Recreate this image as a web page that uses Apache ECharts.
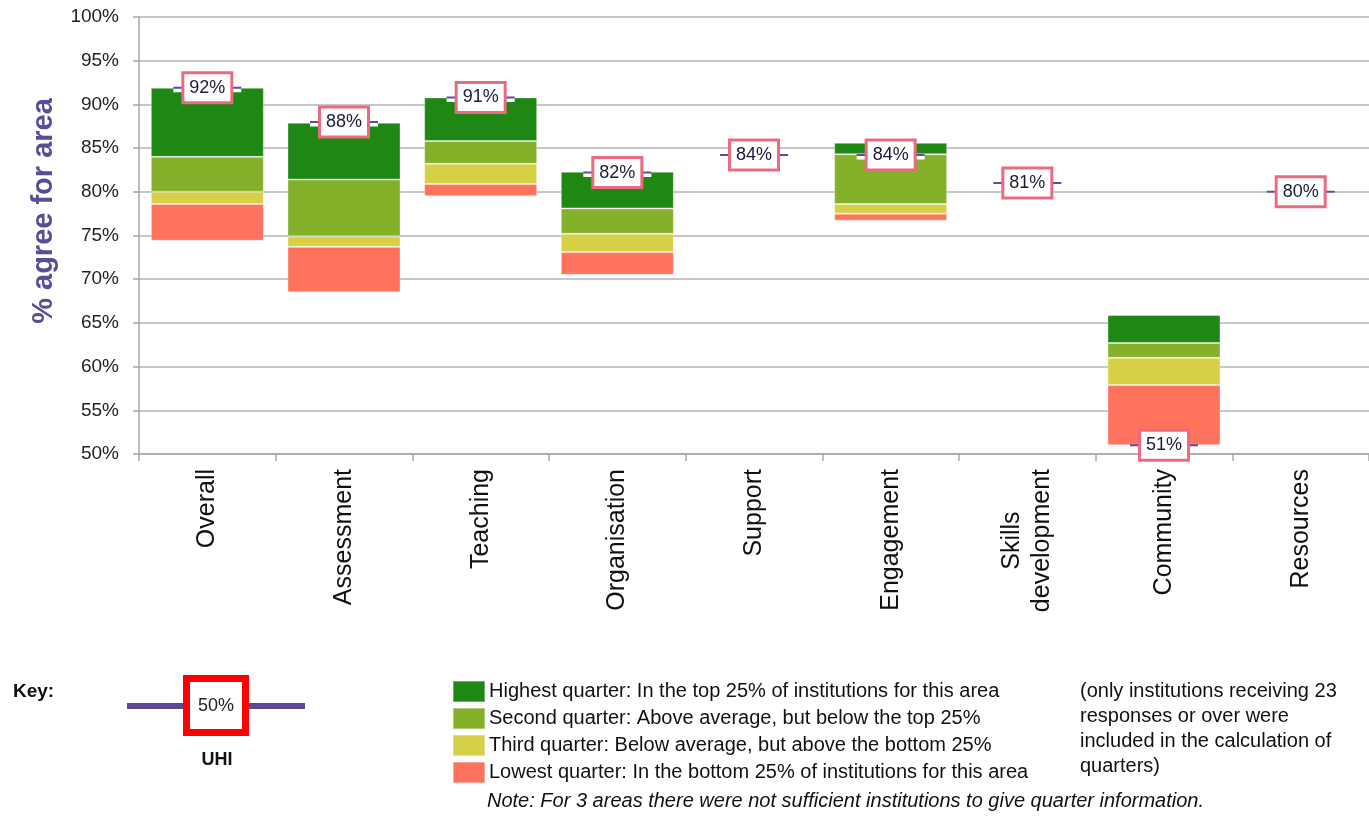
<!DOCTYPE html>
<html>
<head>
<meta charset="utf-8">
<script src="https://cdn.jsdelivr.net/npm/echarts@6/dist/echarts.min.js"></script>
<style>
html,body{margin:0;padding:0;background:#fff;}
#chart{width:1369px;height:816px;}
</style>
</head>
<body>
<div id="chart"></div>
<script>
// ---- data ----
const categories = ['Overall','Assessment','Teaching','Organisation','Support','Engagement','Skills\ndevelopment','Community','Resources'];
// quarter boundaries (% agree) per area; null = no quarter info
const quarterBottom  = [74.4, 68.5, 79.5, 70.5, null, 76.7, null, 51.0, null];
const lowestTop      = [78.6, 73.7, 80.9, 73.1, null, 77.5, null, 57.9, null];
const thirdTop       = [80.0, 74.9, 83.2, 75.2, null, 78.6, null, 61.0, null];
const secondTop      = [84.0, 81.4, 85.8, 78.1, null, 84.3, null, 62.7, null];
const highestTop     = [91.9, 87.9, 90.8, 82.3, null, 85.6, null, 65.9, null];
const uhiValues      = [91.9, 88.0, 90.8, 82.2, 84.2, 84.2, 81.0, 51.0, 80.0];
const yTicks = [50, 55, 60, 65, 70, 75, 80, 85, 90, 95, 100];

const seriesNames = [
  'Highest quarter: In the top 25% of institutions for this area',
  'Second quarter: Above average, but below the top 25%',
  'Third quarter: Below average, but above the bottom 25%',
  'Lowest quarter: In the bottom 25% of institutions for this area'
];
const colors = {
  highest: '#1f8713',
  second: '#84b02a',
  third: '#d6d046',
  lowest: '#ff735e',
  uhi: '#5b4e96',
  labelBorder: '#eb6a80'
};

function diff(top, bottom) {
  return top.map((t, i) => (t == null || bottom[i] == null) ? null : +(t - bottom[i]).toFixed(2));
}

const FONT = '"Liberation Sans", Arial, sans-serif';
const chart = echarts.init(document.getElementById('chart'));

const barCommon = {
  type: 'bar',
  stack: 'q',
  barWidth: 113,
  emphasis: { disabled: true },
  itemStyle: { borderColor: 'rgba(255,255,255,0.35)', borderWidth: 1 }
};

chart.setOption({
  animation: false,
  textStyle: { fontFamily: FONT },
  grid: { left: 139, right: 0, top: 17, height: 437, containLabel: false },
  xAxis: {
    type: 'category',
    data: categories,
    axisLine: { lineStyle: { color: '#a8a8a8', width: 1.5 } },
    axisTick: { show: true, length: 7, lineStyle: { color: '#a8a8a8', width: 1.5 } },
    axisLabel: {
      interval: 0,
      rotate: 90,
      margin: 15,
      fontSize: 25,
      color: '#111',
      fontFamily: FONT,
      formatter: function (v) {
        if (v.indexOf('\n') >= 0) {
          return v.split('\n').map(s => '{c|' + s + '}').join('\n');
        }
        return v;
      },
      rich: { c: { align: 'center', fontSize: 25, lineHeight: 30, color: '#111', fontFamily: FONT } }
    }
  },
  yAxis: {
    type: 'value',
    min: yTicks[0],
    max: yTicks[yTicks.length - 1],
    interval: 5,
    axisLine: { show: true, lineStyle: { color: '#a8a8a8', width: 1.5 } },
    axisTick: { show: true, length: 6, lineStyle: { color: '#a8a8a8', width: 1.5 } },
    splitLine: { lineStyle: { color: '#b4b4b4', width: 1.5 } },
    axisLabel: { fontSize: 19, color: '#222', margin: 20, formatter: '{value}%', fontFamily: FONT }
  },
  legend: {
    orient: 'vertical',
    left: 452,
    top: 680,
    padding: 0,
    itemWidth: 32,
    itemHeight: 21,
    itemGap: 4,
    icon: 'rect',
    selectedMode: false,
    data: seriesNames,
    textStyle: { fontSize: 20, color: '#111', fontFamily: FONT, padding: [0, 0, 0, -1] }
  },
  series: [
    Object.assign({}, barCommon, {
      name: 'base', data: quarterBottom,
      itemStyle: { color: 'transparent', borderWidth: 0 }, silent: true
    }),
    Object.assign({}, barCommon, { name: seriesNames[3], data: diff(lowestTop, quarterBottom), color: colors.lowest }),
    Object.assign({}, barCommon, { name: seriesNames[2], data: diff(thirdTop, lowestTop), color: colors.third }),
    Object.assign({}, barCommon, { name: seriesNames[1], data: diff(secondTop, thirdTop), color: colors.second }),
    Object.assign({}, barCommon, { name: seriesNames[0], data: diff(highestTop, secondTop), color: colors.highest }),
    {
      type: 'scatter',
      name: 'UHI-bg',
      data: uhiValues,
      z: 9,
      symbol: 'rect',
      symbolSize: [68, 4],
      symbolOffset: [0, 2.5],
      itemStyle: { color: '#fff', opacity: 1 },
      emphasis: { disabled: true },
      silent: true
    },
    {
      type: 'scatter',
      name: 'UHI',
      data: uhiValues,
      z: 10,
      symbol: 'rect',
      symbolSize: [68, 2],
      itemStyle: { color: colors.uhi, opacity: 1 },
      emphasis: { disabled: true },
      label: {
        show: true,
        position: 'inside',
        formatter: p => Math.round(p.value) + '%',
        fontSize: 18,
        color: '#1a1a3a',
        opacity: 1,
        fontFamily: FONT,
        backgroundColor: '#fff',
        borderColor: colors.labelBorder,
        borderWidth: 3,
        padding: [5, 5, 4, 5]
      }
    }
  ],
  graphic: [
    {
      type: 'text', x: 44, y: 211, rotation: Math.PI / 2,
      style: { text: '% agree for area', fill: '#5a4d97', font: 'bold 29px ' + FONT, align: 'center', verticalAlign: 'middle' }
    },
    {
      type: 'text', x: 13, y: 692,
      style: { text: 'Key:', fill: '#111', font: 'bold 19px ' + FONT, align: 'left', verticalAlign: 'middle' }
    },
    {
      type: 'rect', shape: { x: 127, y: 703, width: 178, height: 6 },
      style: { fill: '#5b4a91' }
    },
    {
      type: 'rect', shape: { x: 186.5, y: 678.5, width: 59, height: 54 },
      style: { fill: '#fff', stroke: '#ff0000', lineWidth: 7 }
    },
    {
      type: 'text', x: 216, y: 706,
      style: { text: '50%', fill: '#222', font: '18px ' + FONT, align: 'center', verticalAlign: 'middle' }
    },
    {
      type: 'text', x: 217, y: 760,
      style: { text: 'UHI', fill: '#111', font: 'bold 18px ' + FONT, align: 'center', verticalAlign: 'middle' }
    },
    {
      type: 'text', x: 487, y: 801,
      style: { text: 'Note: For 3 areas there were not sufficient institutions to give quarter information.', fill: '#111', font: 'italic 20px ' + FONT, align: 'left', verticalAlign: 'middle' }
    },
    {
      type: 'text', x: 1080, y: 679,
      style: { text: '(only institutions receiving 23\nresponses or over were\nincluded in the calculation of\nquarters)', fill: '#111', font: '20px ' + FONT, lineHeight: 25, align: 'left', verticalAlign: 'top' }
    }
  ]
});
</script>
</body>
</html>
